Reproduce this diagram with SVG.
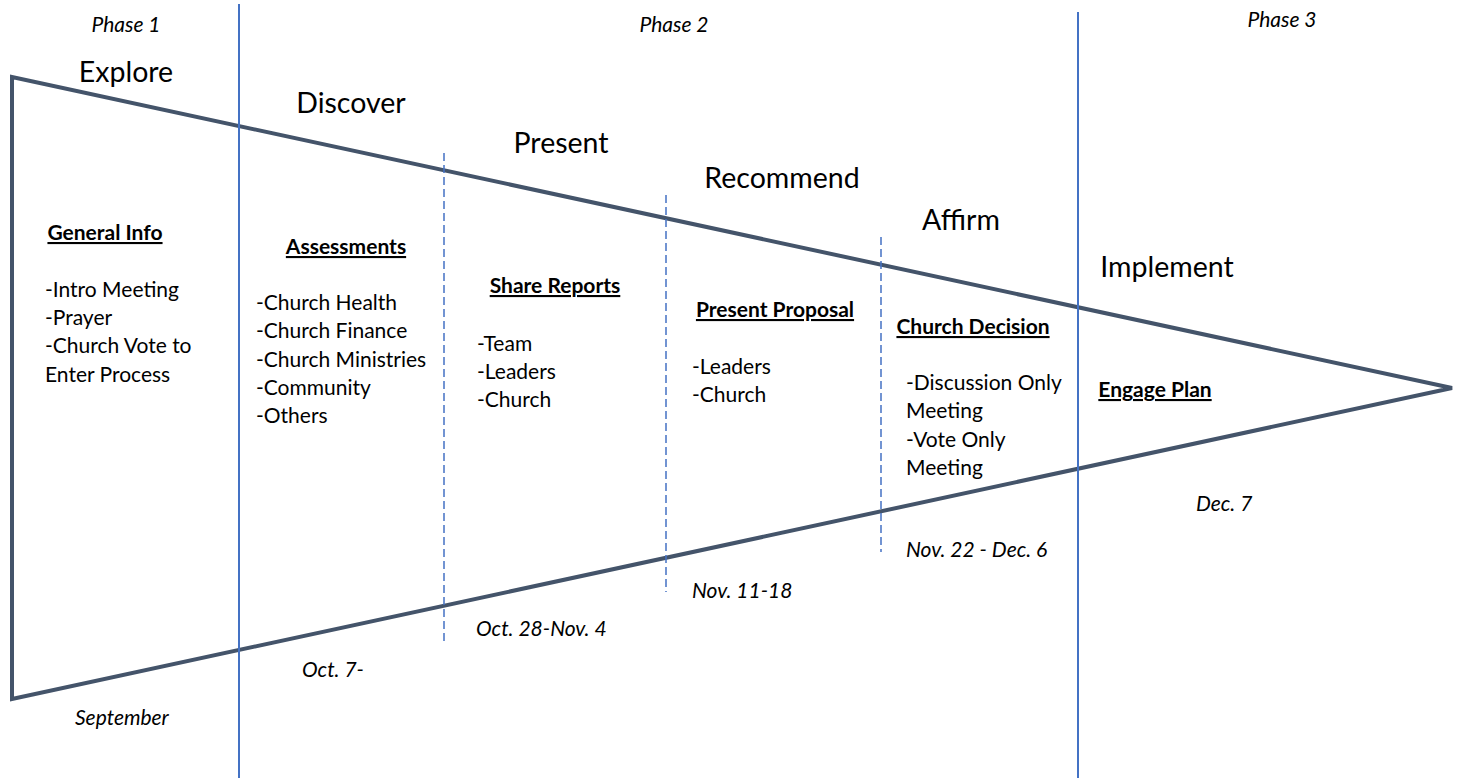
<svg xmlns="http://www.w3.org/2000/svg" width="1459" height="778" viewBox="0 0 1459 778">
<style>
.t{font-family:Lato,"Open Sans","Liberation Sans",sans-serif;fill:#000}
.ph{font-size:21px;font-style:italic;text-anchor:middle}
.st{font-size:28.5px;text-anchor:middle}
.hd{font-size:21px;font-weight:bold;text-decoration:underline;text-anchor:middle}
.bd{font-size:21px}
.dt{font-size:21px;font-style:italic}
.sol{stroke:#4472C4;stroke-width:2;fill:none}
.dash{stroke:#4472C4;stroke-width:1.5;stroke-dasharray:8 4;fill:none}
</style>
<rect width="1459" height="778" fill="#fff"/>
<g id="connectors">
<polygon points="12,77 12,699 1452,388" fill="none" stroke="#44546A" stroke-width="4" stroke-linejoin="miter"/>
<line class="sol" x1="239" y1="4" x2="239" y2="778"/>
<line class="sol" x1="1078" y1="12" x2="1078" y2="778"/>
<line class="dash" x1="444" y1="153" x2="444" y2="645"/>
<line class="dash" x1="666" y1="195" x2="666" y2="592"/>
<line class="dash" x1="881" y1="237" x2="881" y2="552"/>
</g>
<g id="phases">
<text class="t ph" x="126" y="32">Phase 1</text>
<text class="t ph" x="674" y="32">Phase 2</text>
<text class="t ph" x="1282" y="27">Phase 3</text>
</g>
<g id="explore">
<text class="t st" x="126" y="82">Explore</text>
<text class="t hd" x="105" y="240">General Info</text>
<text class="t bd" x="45" y="297">-Intro Meeting</text>
<text class="t bd" x="45" y="325">-Prayer</text>
<text class="t bd" x="45" y="353">-Church Vote to</text>
<text class="t bd" x="45" y="382">Enter Process</text>
<text class="t dt" x="75" y="725">September</text>
</g>
<g id="discover">
<text class="t st" x="351" y="113">Discover</text>
<text class="t hd" x="346" y="254">Assessments</text>
<text class="t bd" x="256" y="310">-Church Health</text>
<text class="t bd" x="256" y="338">-Church Finance</text>
<text class="t bd" x="256" y="367">-Church Ministries</text>
<text class="t bd" x="256" y="395">-Community</text>
<text class="t bd" x="256" y="423">-Others</text>
<text class="t dt" x="302" y="677">Oct. 7-</text>
</g>
<g id="present">
<text class="t st" x="561" y="153">Present</text>
<text class="t hd" x="555" y="293">Share Reports</text>
<text class="t bd" x="477" y="351">-Team</text>
<text class="t bd" x="477" y="379">-Leaders</text>
<text class="t bd" x="477" y="407">-Church</text>
<text class="t dt" x="476" y="636">Oct. 28-Nov. 4</text>
</g>
<g id="recommend">
<text class="t st" x="782" y="188">Recommend</text>
<text class="t hd" x="775" y="317">Present Proposal</text>
<text class="t bd" x="692" y="374">-Leaders</text>
<text class="t bd" x="692" y="402">-Church</text>
<text class="t dt" x="692" y="598">Nov. 11-18</text>
</g>
<g id="affirm">
<text class="t st" x="961" y="230">Affirm</text>
<text class="t hd" x="973" y="334">Church Decision</text>
<text class="t bd" x="906" y="390">-Discussion Only</text>
<text class="t bd" x="906" y="418">Meeting</text>
<text class="t bd" x="906" y="447">-Vote Only</text>
<text class="t bd" x="906" y="475">Meeting</text>
<text class="t dt" x="906" y="557">Nov. 22 - Dec. 6</text>
</g>
<g id="implement">
<text class="t st" x="1167" y="277">Implement</text>
<text class="t hd" x="1155" y="397">Engage Plan</text>
<text class="t dt" x="1196" y="511">Dec. 7</text>
</g>
</svg>
